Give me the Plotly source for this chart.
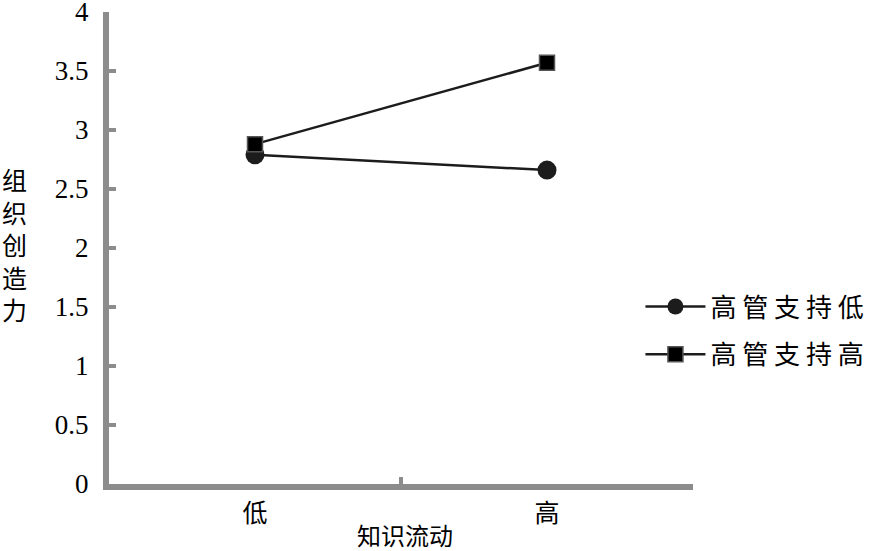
import plotly.graph_objects as go

categories = ["低", "高"]
series_names = ["高 管 支 持 低", "高 管 支 持 高"]
low_support = [2.79, 2.66]
high_support = [2.88, 3.57]
y_ticks = [0, 0.5, 1, 1.5, 2, 2.5, 3, 3.5, 4]
y_tick_text = ["0", "0.5", "1", "1.5", "2", "2.5", "3", "3.5", "4"]
x_title = "知识流动"
y_title = "组<br>织<br>创<br>造<br>力"

CJK = "Noto Sans CJK SC"
AX = "#8c8c8c"
LC = "#1c1c1c"

fig = go.Figure()
fig.add_trace(go.Scatter(
    x=categories, y=low_support, name=series_names[0], mode="lines+markers",
    line=dict(color=LC, width=2.5), legendgroup="a",
    marker=dict(symbol="circle", size=19, color=LC, line=dict(width=0)),
))
fig.add_trace(go.Scatter(
    x=categories, y=high_support, name=series_names[1], mode="lines+markers",
    line=dict(color=LC, width=2.5), legendgroup="b",
    marker=dict(symbol="square", size=15, color="#000000", line=dict(width=1.5, color="#555555")),
))

fig.update_layout(
    width=878, height=551,
    margin=dict(l=109, r=185, t=12, b=67, autoexpand=False),
    paper_bgcolor="white", plot_bgcolor="white",
    font=dict(family="Liberation Serif, Noto Sans CJK SC", size=27, color="#000000"),
    showlegend=True,
    legend=dict(x=0.91, xref="paper", y=0.325, xanchor="left", yanchor="middle",
                font=dict(family=CJK, size=26, color="#000000"),
                tracegroupgap=11, itemwidth=60, bgcolor="rgba(0,0,0,0)"),
    xaxis=dict(
        type="category", range=[-0.5, 1.5], showline=True, linecolor=AX, linewidth=6,
        showgrid=False, zeroline=False, ticks="inside", ticklen=7, tickwidth=4, tickcolor=AX,
        tickson="boundaries", tickfont=dict(family=CJK, size=25), ticklabelstandoff=2,
        automargin=False,
    ),
    yaxis=dict(
        range=[0, 4], showline=True, linecolor=AX, linewidth=6, showgrid=False, zeroline=False,
        tickvals=y_ticks, ticktext=y_tick_text, ticks="inside", ticklen=7, tickwidth=4,
        tickcolor=AX, tickfont=dict(family="Liberation Serif", size=27), ticklabelstandoff=9,
        ticklabeloverflow="allow", automargin=False,
    ),
    annotations=[
        dict(text=x_title, xref="paper", yref="paper", x=0.5, xshift=4, y=0, yshift=-50,
             xanchor="center", yanchor="middle", showarrow=False,
             font=dict(family=CJK, size=24)),
        dict(text=y_title, xref="paper", yref="paper", x=0, xshift=-95, y=0.5, yshift=4,
             xanchor="center", yanchor="middle", showarrow=False,
             font=dict(family=CJK, size=25)),
    ],
)

# remove the browser's default 8px body margin so the figure sits at the page origin
fig.write_html("out.html", config={"displayModeBar": False},
               post_script="document.body.style.margin='0';")
